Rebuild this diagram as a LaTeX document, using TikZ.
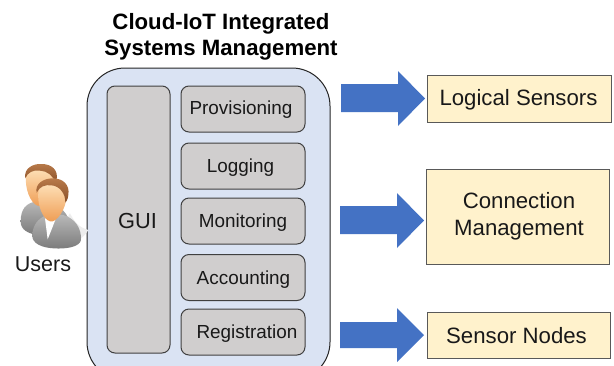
\documentclass[tikz,border=0pt]{standalone}
\usepackage{fontspec}
\setmainfont{Liberation Sans}
\definecolor{panel}{HTML}{DAE3F3}
\definecolor{itemfill}{HTML}{D0CECE}
\definecolor{bluearrow}{HTML}{4472C4}
\definecolor{cream}{HTML}{FFF2CC}
\definecolor{skinlight}{HTML}{FFE6C0}
\definecolor{skindark}{HTML}{EE9A50}
\definecolor{hairlight}{HTML}{B87A4A}
\definecolor{hairdark}{HTML}{8A5028}
\newcommand{\fsz}[1]{\fontsize{#1}{26.5}\selectfont}
\tikzset{
  x=1pt,y=-1pt,
  panelbox/.style={draw=black!85,line width=1pt,fill=panel,rounded corners=38pt},
  itembox/.style={draw=black!75,line width=1pt,fill=itemfill,rounded corners=8pt,minimum width=124pt,minimum height=46pt,inner sep=0pt},
  itemtext/.style={inner sep=0pt,font=\fsz{18.9},text=black!90},
  guibox/.style={draw=black!75,line width=1pt,fill=itemfill,rounded corners=8pt},
  outbox/.style={draw=black!65,line width=.8pt,fill=cream,inner sep=0pt},
  outtext/.style={inner sep=0pt,align=center,font=\fsz{22.2},text=black!90},
  flow/.style={fill=bluearrow,draw=none},
  skin/.style={top color=skinlight,bottom color=skindark,draw=none},
  hair/.style={top color=hairlight,bottom color=hairdark,draw=none},
  suit/.style={top color=black!28,bottom color=black!52,draw=none},
}
\begin{document}
\begin{tikzpicture}
\useasboundingbox (0,0) rectangle (614,365);
\path[fill=white] (0,0) rectangle (614,365);
% title
\node[font=\bfseries\fsz{22.2},align=center,inner sep=0pt] (title) at (221,37) {Cloud-IoT Integrated\\Systems Management};
% panel
\begin{scope}
\clip (0,0) rectangle (614,365);
\path[panelbox] (87,68) rectangle (330,380);
\end{scope}
% GUI
\path[guibox] (107,86) rectangle (170,353);
\node[font=\fsz{21.8},text=black!90,inner sep=0pt] (gui) at (137.5,221) {GUI};
% items
\node[itembox] (prov) at (243,109) {};
\node[itembox] (log) at (243,166) {};
\node[itembox] (mon) at (243,221) {};
\node[itembox] (acc) at (243,277.5) {};
\node[itembox] (reg) at (243,332) {};
\node[itemtext] (provt) at (241,110) {Provisioning};
\node[itemtext] (logt) at (240.5,168) {Logging};
\node[itemtext] (mont) at (243,223) {Monitoring};
\node[itemtext] (acct) at (243.5,279.5) {Accounting};
\node[itemtext] (regt) at (247,334) {Registration};
% arrows
\path[flow] (341,84) -- (398,84) -- (398,71) -- (425,98.5) -- (398,126) -- (398,112) -- (341,112) -- cycle;
\path[flow] (340,206) -- (397,206) -- (397,193) -- (424,220.5) -- (397,248) -- (397,234) -- (340,234) -- cycle;
\path[flow] (340,322) -- (397,322) -- (397,308) -- (424,335) -- (397,362) -- (397,348) -- (340,348) -- cycle;
% outputs
\node[outbox,minimum width=184pt,minimum height=47pt] (ls) at (519,98.5) {};
\node[outbox,minimum width=183pt,minimum height=95pt] (cm) at (517.5,216.5) {};
\node[outbox,minimum width=183pt,minimum height=46pt] (sn) at (518.5,335) {};
\node[outtext] (lst) at (518.5,99.5) {Logical Sensors};
\node[outtext] (cmt) at (519,216.5) {Connection\\Management};
\node[outtext] (snt) at (516.5,336) {Sensor Nodes};
% users icon
\begin{scope}[shift={(0,150)},x=0.3333pt,y=-0.3333pt]
  \path[fill=black!7] (150,285) .. controls (200,298) and (240,280) .. (265,240) .. controls (250,235) and (230,230) .. (210,190) -- cycle;
  % back person
  \path[suit] (62,215) .. controls (62,175) and (80,160) .. (105,155) -- (165,165) .. controls (185,175) and (205,190) .. (210,225) -- (110,255) .. controls (85,250) and (62,240) .. (62,215) -- cycle;
  \path[skin] (78,75) .. controls (85,45) and (160,45) .. (165,85) .. controls (166,130) and (135,175) .. (112,167) .. controls (90,157) and (74,115) .. (78,75) -- cycle;
  \path[hair] (76,85) .. controls (70,55) and (100,40) .. (125,42) .. controls (155,42) and (175,60) .. (170,88) -- (165,100) .. controls (163,78) and (140,62) .. (120,62) .. controls (100,58) and (82,68) .. (76,85) -- cycle;
  % front person
  \path[suit] (97,258) .. controls (97,225) and (115,205) .. (140,195) -- (190,195) .. controls (225,205) and (245,235) .. (243,270) .. controls (240,290) and (200,298) .. (160,295) .. controls (125,293) and (97,280) .. (97,258) -- cycle;
  \path[fill=white] (135,205) -- (168,205) -- (143,268) -- cycle;
  \path[skin] (115,125) .. controls (120,90) and (198,90) .. (200,135) .. controls (200,175) and (170,220) .. (150,214) .. controls (128,207) and (111,165) .. (115,125) -- cycle;
  \path[hair] (110,128) .. controls (104,102) and (130,85) .. (158,85) .. controls (190,85) and (210,105) .. (205,135) .. controls (204,148) and (198,156) .. (196,158) .. controls (197,130) and (178,108) .. (155,106) .. controls (135,103) and (118,110) .. (110,128) -- cycle;
\end{scope}
\node[font=\fsz{21.5},text=black!90,inner sep=0pt] (users) at (43,264) {Users};
\end{tikzpicture}
\end{document}
